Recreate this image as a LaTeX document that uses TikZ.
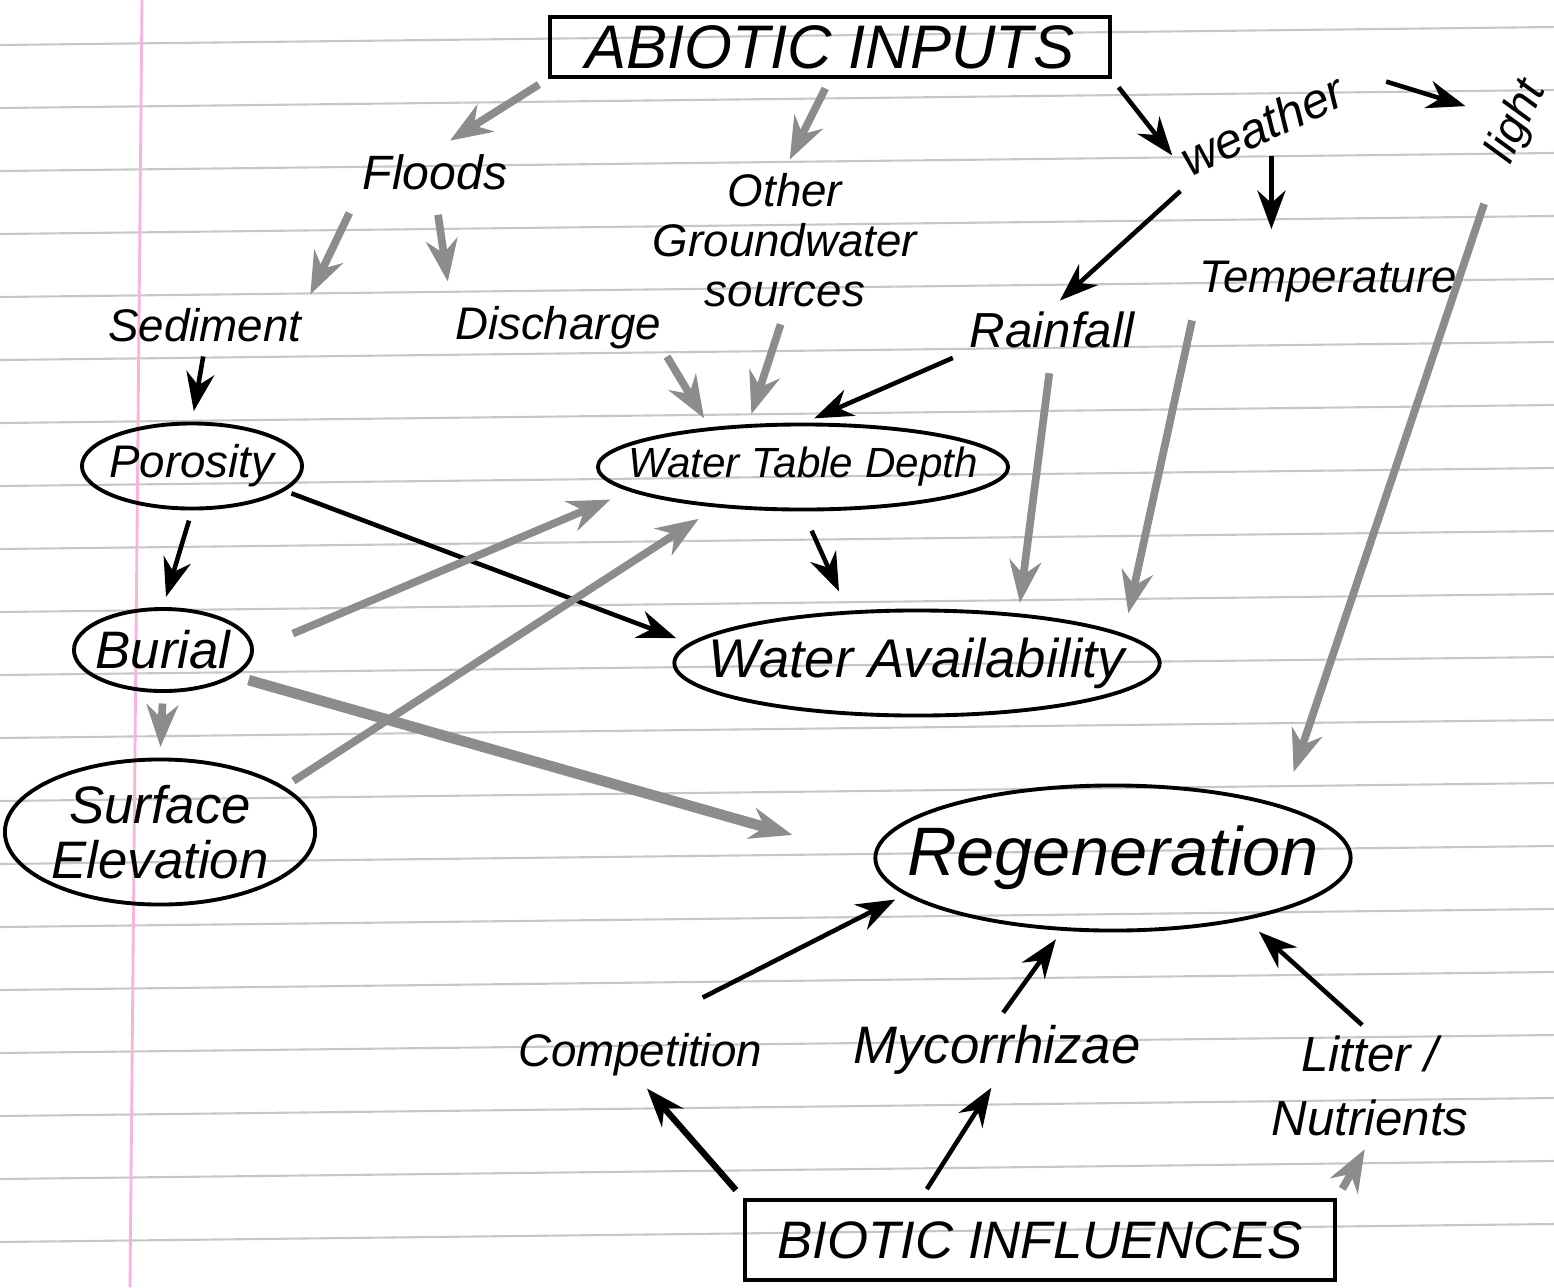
\documentclass[tikz,border=0pt]{standalone}
\usepackage{fontspec}
\setmainfont{Liberation Sans}
\usetikzlibrary{arrows.meta,shapes.geometric,calc}
\newcommand\hwf[2]{\itshape\fontsize{#1}{#2}\selectfont}
\begin{document}
\begin{tikzpicture}[x=0.01cm,y=-0.01cm,
  lbl/.style={font=\hwf{13}{14.2}, inner sep=1pt, align=center},
  oval/.style={ellipse, draw, line width=1.1pt, inner sep=0pt},
  titlebox/.style={draw, line width=1.1pt, inner sep=0pt},
  conn/.style={-{Stealth[length=11pt,width=8pt]}, line width=1.3pt, shorten <=3pt, shorten >=3pt},
  gconn/.style={-{Stealth[length=12pt,width=9pt]}, line width=2.2pt, draw=black!45, fill=black!45, shorten <=3pt, shorten >=3pt},
  ruled/.style={draw=black!22, line width=0.6pt},
  margin/.style={draw=magenta!30, line width=0.8pt}]
\useasboundingbox (0,0) rectangle (1554,1287);
% notebook paper
\foreach \i in {0,...,19} {\draw[ruled] (0,{45+63*\i}) -- (1554,{27+63*\i});}
\draw[margin] (142,0) -- (130,1287);
% top level
\node[titlebox, minimum width=5.6cm, minimum height=0.6cm, font=\hwf{17.5}{19}] (abiotic) at (830,47) {ABIOTIC INPUTS};
\node[lbl, font=\hwf{13.7}{15}] (floods) at (435,172) {Floods};
\node[lbl] (ogw) at (785,240) {Other\\Groundwater\\sources};
\node[lbl, font=\hwf{14}{15}, rotate=25] (weather) at (1262,125) {weather};
\node[lbl, font=\hwf{13}{14}, rotate=65] (light) at (1517,122) {light};
\node[lbl] (sediment) at (205,325) {Sediment};
\node[lbl] (discharge) at (558,328) {Discharge};
\node[lbl, font=\hwf{14}{15}] (rainfall) at (1052,330) {Rainfall};
\node[lbl] (temp) at (1328,282) {Temperature};
% ovals
\node[oval, minimum width=2.2cm, minimum height=0.85cm] (porosity) at (192,466) {};
\node[lbl] (porosity-t) at (porosity) {Porosity};
\node[oval, minimum width=4.1cm, minimum height=0.85cm] (wtd) at (803,467) {};
\node[lbl, font=\hwf{12}{13}] (wtd-t) at (wtd) {Water Table Depth};
\node[oval, minimum width=1.78cm, minimum height=0.82cm] (burial) at (163,650) {};
\node[lbl, font=\hwf{15}{16}] (burial-t) at (burial) {Burial};
\node[oval, minimum width=4.85cm, minimum height=1.05cm] (wa) at (917,663) {};
\node[lbl, font=\hwf{15.5}{17}] (wa-t) at (wa) {Water Availability};
\node[oval, minimum width=3.1cm, minimum height=1.45cm] (surf) at (160,832) {};
\node[lbl, font=\hwf{15}{15.6}] (surf-t) at (surf) {Surface\\Elevation};
\node[oval, minimum width=4.75cm, minimum height=1.45cm] (regen) at (1113,858) {};
\node[lbl, font=\hwf{19.5}{21}] (regen-t) at (regen) {Regeneration};
% biotic side
\node[lbl] (comp) at (640,1055) {Competition};
\node[lbl, font=\hwf{15}{16}] (myco) at (997,1050) {Mycorrhizae};
\node[lbl, font=\hwf{14}{18}] (litter) at (1370,1086) {Litter /\\Nutrients};
\node[titlebox, minimum width=5.9cm, minimum height=0.8cm, font=\hwf{15}{16}] (biotic) at (1040,1240) {BIOTIC INFLUENCES};
% connectors
\draw[gconn, shorten >=5pt] (abiotic.south west) -- (floods.north);
\draw[gconn] (abiotic.south) -- (ogw.north);
\draw[conn] (abiotic.south east) -- (weather.west);
\draw[conn, shorten <=15pt, shorten >=8pt] (weather.north east) -- (light);
\draw[conn, shorten >=8pt] (weather.south) -- (weather.south |- temp.north);
\draw[conn] (weather.south west) -- (rainfall.north);
\draw[gconn, shorten <=12pt, shorten >=10pt] (light.west) -- (regen.north east);
\draw[gconn, shorten <=6pt] (floods.south west) -- (sediment.north east);
\draw[gconn, shorten <=6pt, shorten >=6pt] (floods.south) -- (discharge.north west);
\draw[conn] (sediment.south) -- (porosity.north);
\draw[conn] (porosity.south) -- (burial.north);
\draw[gconn] (burial.south) -- (surf.north);
\draw[gconn, shorten <=1pt] (discharge.south east) -- (wtd.157);
\draw[gconn, shorten <=4pt] (ogw.south) -- (wtd.142);
\draw[conn, shorten <=4pt] (rainfall.south west) -- (wtd.88);
\draw[gconn, shorten <=6pt] (rainfall.south) -- (wa.26);
\draw[gconn, shorten <=4pt, shorten >=6pt] (temp.south west) -- (wa.8);
\draw[conn, shorten <=6pt, shorten >=6pt] (wtd.south) -- (wa.143);
\draw[conn, shorten <=2pt, shorten >=4pt] (porosity.-15) -- (wa.175);
\draw[gconn, shorten <=12pt, shorten >=6pt] (burial.east) -- (wtd.188);
\draw[gconn, shorten >=6pt] (surf.20) -- (wtd.205);
\draw[gconn, line width=3pt, shorten <=4pt, shorten >=24pt] (burial.-20) -- (regen.west);
\draw[conn, shorten <=20pt] (comp.north) -- (regen.190);
\draw[conn] (myco.north) -- (regen.235);
\draw[conn, shorten >=5pt] (litter.north) -- (regen.335);
\draw[conn, line width=1.8pt] (biotic.north west) -- (comp.south);
\draw[conn] ($(biotic.north west)!0.6!(biotic.north)$) -- (myco.south);
\draw[gconn] (biotic.north east) -- (litter.south);
\end{tikzpicture}
\end{document}
